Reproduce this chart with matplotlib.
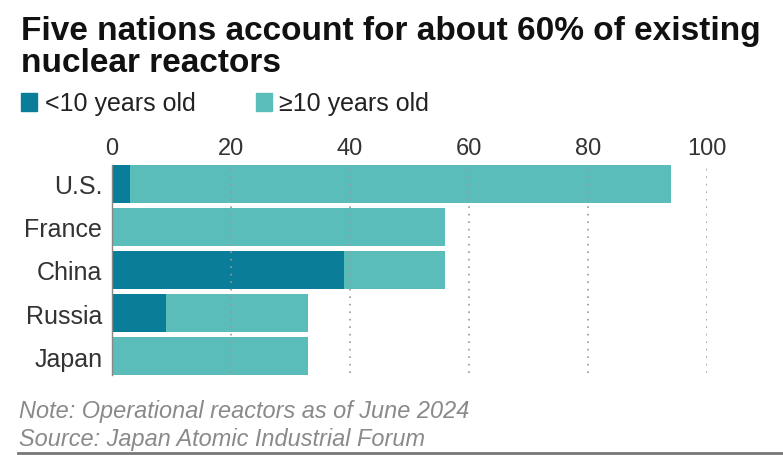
"""Five nations nuclear reactors chart: stacked horizontal bars by reactor age."""

import matplotlib
matplotlib.use("Agg")
import matplotlib.pyplot as plt
from matplotlib.patches import Rectangle

countries = ["U.S.", "France", "China", "Russia", "Japan"]
under_10 = [3, 0, 39, 9, 0]
total = [94, 56, 56, 33, 33]
over_10 = [t - u for t, u in zip(total, under_10)]
ticks = [0, 20, 40, 60, 80, 100]

DARK = "#0a7e99"
LIGHT = "#5bbdb9"
W, H = 783, 456

plt.rcParams["font.family"] = ["Liberation Sans", "DejaVu Sans"]

fig = plt.figure(figsize=(W / 100, H / 100), dpi=100)
ax = fig.add_axes([112 / W, 1 - 376 / H, (707 - 112) / W, (376 - 166) / H])

ypos = list(range(len(countries)))
ax.barh(ypos, under_10, height=0.88, color=DARK, zorder=2)
ax.barh(ypos, over_10, left=under_10, height=0.88, color=LIGHT, zorder=2)

ax.set_xlim(0, 100)
ax.set_ylim(len(countries) - 0.56, -0.44)
for t in ticks[1:]:
    ax.axvline(t, ymin=0.01, color="#999999", lw=1.2, ls=(0, (1, 3.5)), zorder=3)

ax.xaxis.tick_top()
ax.set_xticks(ticks)
ax.set_yticks(ypos)
ax.set_yticklabels(countries)
ax.tick_params(axis="both", length=0, labelcolor="#333333")
ax.tick_params(axis="x", labelsize=17, pad=4)
ax.tick_params(axis="y", labelsize=18, pad=7)
for s in ["top", "right", "bottom"]:
    ax.spines[s].set_visible(False)
ax.spines["left"].set_color("#888888")
ax.spines["left"].set_linewidth(1)

fig.text(21 / W, 1 - 40 / H, "Five nations account for about 60% of existing",
         fontsize=24, fontweight="bold", color="#111111")
fig.text(21 / W, 1 - 72 / H, "nuclear reactors",
         fontsize=24, fontweight="bold", color="#111111")

fig.patches.append(Rectangle((21 / W, 1 - 112 / H), 16 / W, 18 / H,
                             transform=fig.transFigure, color=DARK))
fig.text(45 / W, 1 - 111 / H, "<10 years old", fontsize=18, color="#222222")
fig.patches.append(Rectangle((256 / W, 1 - 112 / H), 16 / W, 18 / H,
                             transform=fig.transFigure, color=LIGHT))
fig.text(279 / W, 1 - 111 / H, "\u226510 years old", fontsize=18, color="#222222")

fig.text(19 / W, 1 - 418 / H, "Note: Operational reactors as of June 2024",
         fontsize=16.9, style="italic", color="#8a8a8a")
fig.text(19 / W, 1 - 446 / H, "Source: Japan Atomic Industrial Forum",
         fontsize=16.9, style="italic", color="#8a8a8a")
fig.lines.append(plt.Line2D([18 / W, 1], [1 - 454 / H] * 2, transform=fig.transFigure,
                            color="#777777", lw=2))

fig.savefig("out.png", dpi=100)
